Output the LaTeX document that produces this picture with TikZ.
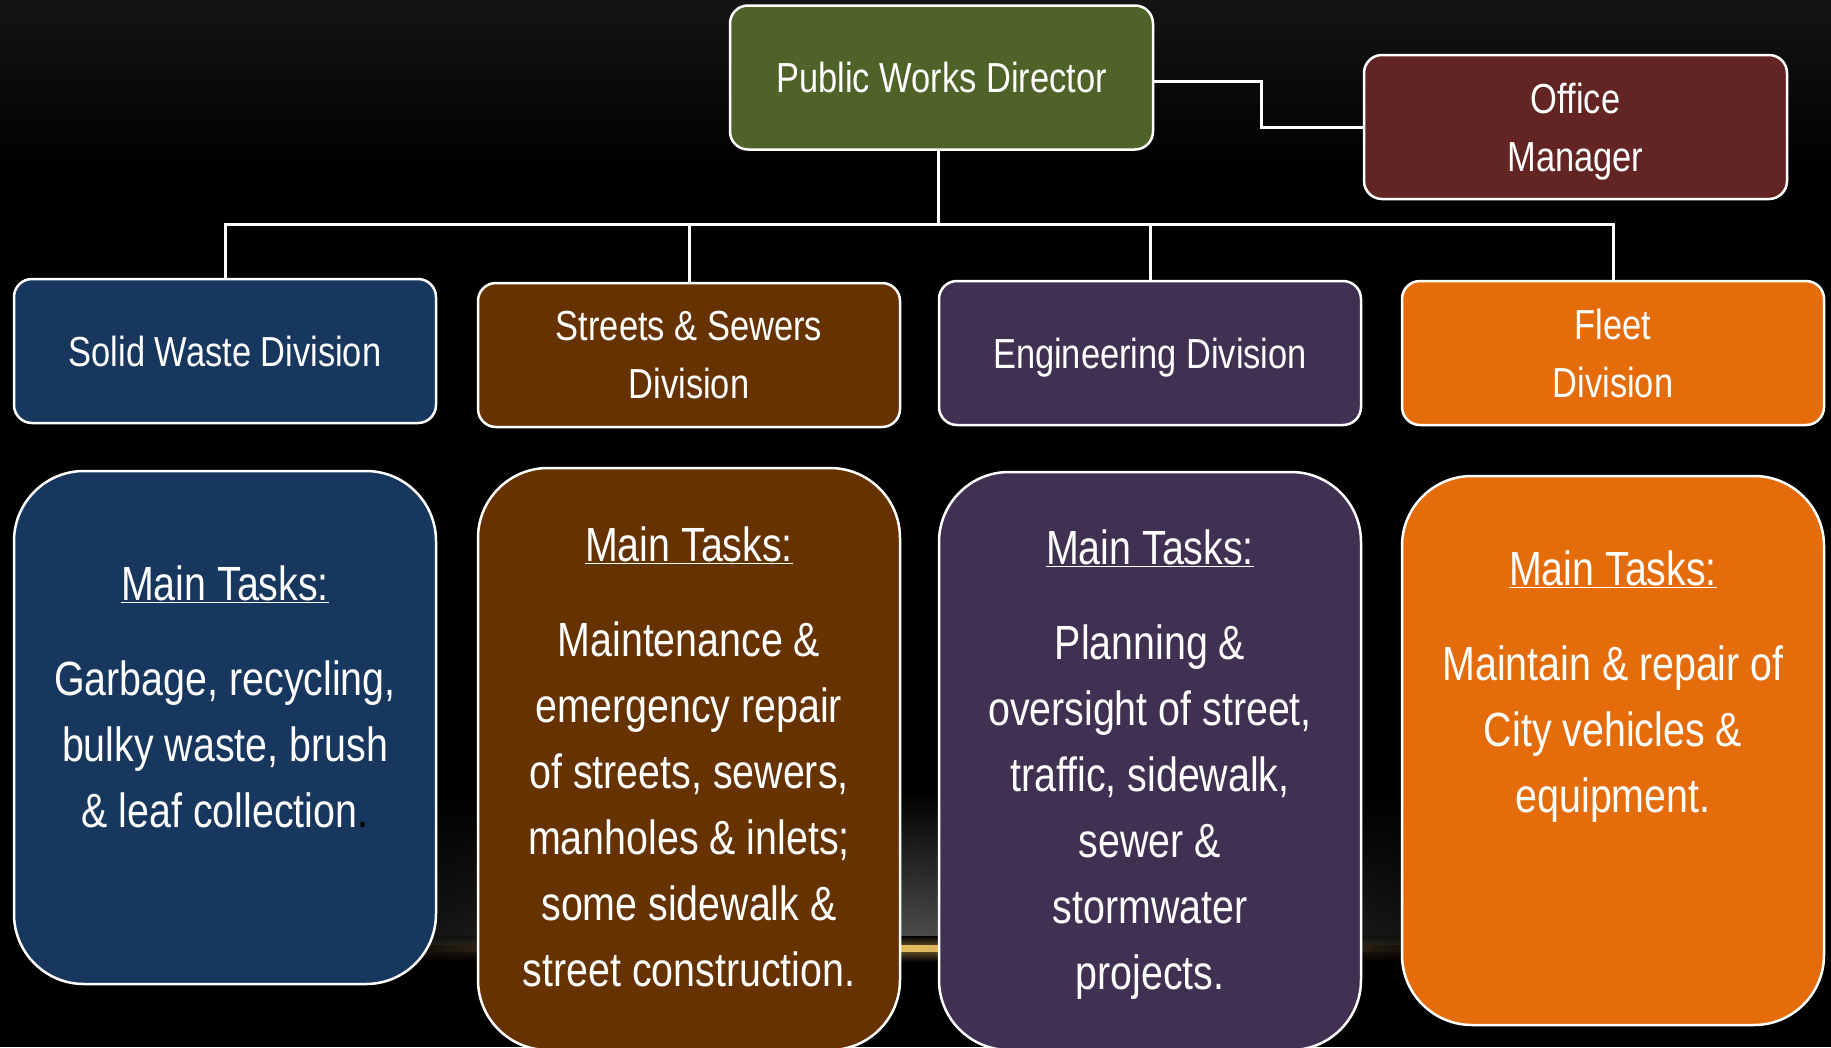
\documentclass[tikz,border=0pt]{standalone}
\usepackage{fontspec}
\setmainfont[FakeStretch=0.82]{Liberation Sans}
\usetikzlibrary{positioning,fadings}
\definecolor{pwgreen}{HTML}{4F6228}
\definecolor{pwred}{HTML}{632523}
\definecolor{pwblue}{HTML}{17375E}
\definecolor{pwbrown}{HTML}{663300}
\definecolor{pwpurple}{HTML}{403152}
\definecolor{pworange}{HTML}{E46C0A}
\definecolor{glowgold}{HTML}{E6BC62}
\tikzfading[name=fade sides, left color=transparent!100, right color=transparent!100,
  middle color=transparent!0]
\begin{document}
\begin{tikzpicture}[x=1pt,y=-1pt,
    box/.style={draw=white, line width=2.5pt, rounded corners=18pt, text=white,
      align=center, inner sep=0pt, minimum width=422pt, minimum height=144pt,
      text depth=0pt, font=\fontsize{42}{58}\selectfont},
    taskbox/.style={box, rounded corners=70pt},
    tasktext/.style={text=white, align=center, inner sep=0pt,
      font=\fontsize{48}{66}\selectfont},
    wire/.style={draw=white, line width=3pt}]
  \useasboundingbox (0,0) rectangle (1831,1047);
  % background
  \fill [black] (0,0) rectangle (1831,1047);
  \shade [top color=black!92!white, bottom color=black] (0,0) rectangle (1831,170);
  \shade [top color=black, bottom color=black!68!white, path fading=fade sides]
    (260,790) rectangle (1570,946);
  \shade [top color=black, bottom color=glowgold!45!black, path fading=fade sides]
    (300,936) rectangle (1530,947);
  \shade [top color=glowgold!45!black, bottom color=black, path fading=fade sides]
    (300,950) rectangle (1530,962);
  \shade [left color=black, right color=black, middle color=glowgold] (380,945) rectangle (1450,951);

  % top level
  \node [box, fill=pwgreen, minimum width=423pt] (director) at (941.5,77.5) {Public Works Director};
  \node [box, fill=pwred, minimum width=423pt] (office) at (1575.5,127) {Office\\Manager};

  % divisions
  \node [box, fill=pwblue] (solidDiv) at (225,351) {Solid Waste Division};
  \node [box, fill=pwbrown] (streetsDiv) at (689,355) {Streets \& Sewers\\Division};
  \node [box, fill=pwpurple] (engDiv) at (1150,353) {Engineering Division};
  \node [box, fill=pworange] (fleetDiv) at (1613,353) {Fleet\\Division};

  % connectors
  \coordinate (hub) at (938,224);
  \draw [wire] (hub |- director.south) -- (hub);
  \draw [wire] ([yshift=-4pt]director.east) -- ++(107,0) |- (office.west);
  \draw [wire] (solidDiv.north) |- (hub);
  \draw [wire] (fleetDiv.north) |- (hub);
  \draw [wire] (streetsDiv.north) -- (streetsDiv.north |- hub);
  \draw [wire] (engDiv.north) -- (engDiv.north |- hub);

  % task boxes
  \node [taskbox, fill=pwblue, minimum height=513pt] (solidTasks) at (225,727.5) {};
  \node [taskbox, fill=pwbrown, minimum height=582pt] (streetsTasks) at (689,759) {};
  \node [taskbox, fill=pwpurple, minimum height=578pt] (engTasks) at (1150,761) {};
  \node [taskbox, fill=pworange, minimum height=549pt] (fleetTasks) at (1613,750.5) {};

  \node [tasktext, below=96pt of solidTasks.north] (solidText)
    {\underline{Main Tasks:}\\[29pt] Garbage, recycling,\\ bulky waste, brush\\
     \& leaf collection{\color{black}.}};
  \node [tasktext, below=60pt of streetsTasks.north] (streetsText)
    {\underline{Main Tasks:}\\[29pt] Maintenance \&\\ emergency repair\\ of streets, sewers,\\
     manholes \& inlets;\\ some sidewalk \&\\ street construction.};
  \node [tasktext, below=59pt of engTasks.north] (engText)
    {\underline{Main Tasks:}\\[29pt] Planning \&\\ oversight of street,\\ traffic, sidewalk,\\
     sewer \&\\ stormwater\\ projects.};
  \node [tasktext, below=76pt of fleetTasks.north] (fleetText)
    {\underline{Main Tasks:}\\[29pt] Maintain \& repair of\\ City vehicles \&\\ equipment.};
\end{tikzpicture}
\end{document}
